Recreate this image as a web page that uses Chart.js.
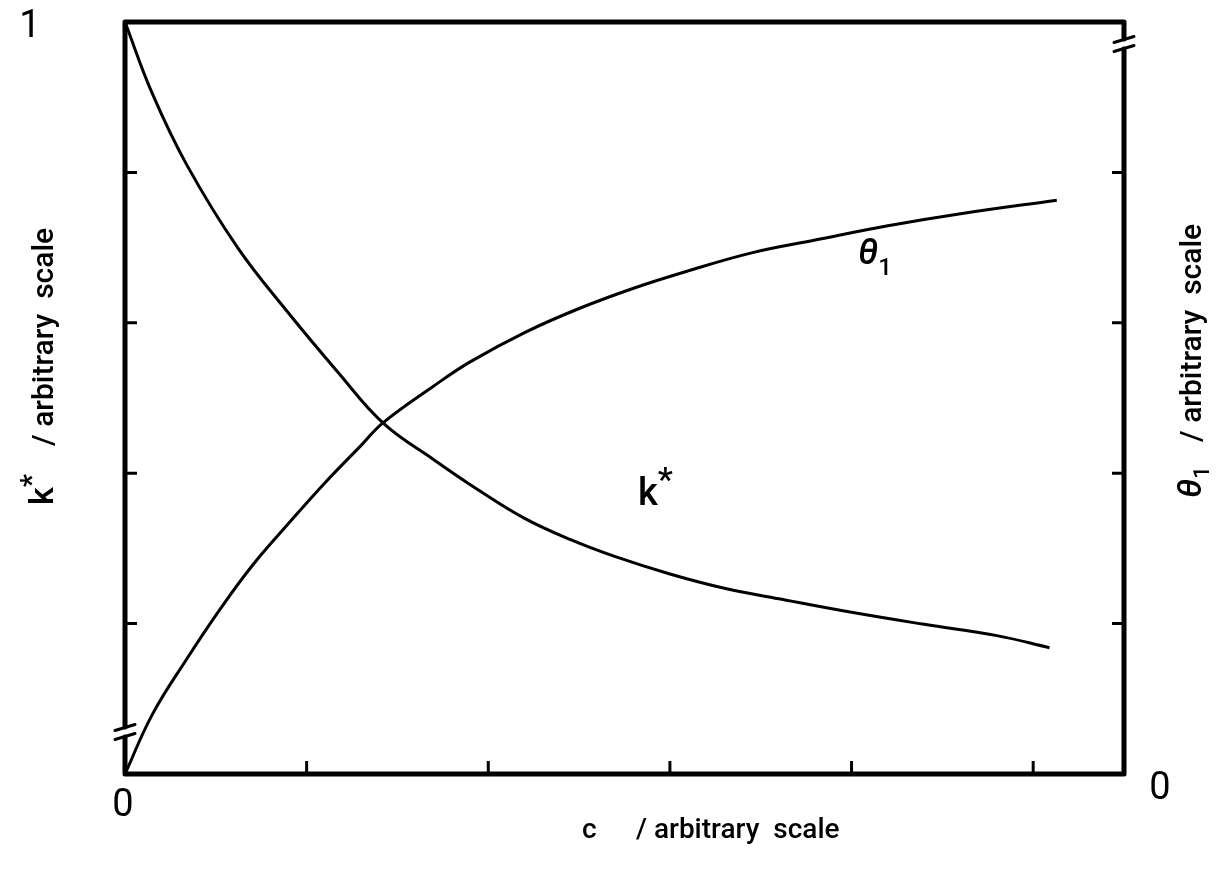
<!DOCTYPE html>
<html>
<head>
<meta charset="utf-8">
<script src="https://cdn.jsdelivr.net/npm/chart.js@4.4.1/dist/chart.umd.min.js"></script>
<style>
    html, body { margin: 0; padding: 0; background: #fff; }
    #wrap { width: 1219px; height: 873px; }
</style>
</head>
<body>
<div id="wrap"><canvas id="chart" width="1219" height="873"></canvas></div>
<script>
// concentration c (arbitrary units) and the two curves read along it
const cK = [0, 0.15, 0.34, 0.62, 0.9, 1.17, 1.42, 1.7, 1.95, 2.2, 2.45, 2.7, 3.0, 3.3, 3.6, 4.0, 4.4, 4.8, 5.09];
const kStar = [1, 0.905, 0.81, 0.70, 0.613, 0.535, 0.467, 0.418, 0.377, 0.340, 0.312, 0.289, 0.266, 0.247, 0.233, 0.215, 0.199, 0.184, 0.168];

const cTheta = [0, 0.15, 0.34, 0.52, 0.7, 0.9, 1.1, 1.3, 1.42, 1.7, 1.9, 2.2, 2.5, 2.8, 3.1, 3.45, 3.8, 4.2, 4.6, 5.13];
const theta1 = [0, 0.079, 0.153, 0.218, 0.277, 0.333, 0.387, 0.437, 0.467, 0.516, 0.548, 0.587, 0.619, 0.646, 0.669, 0.693, 0.71, 0.729, 0.745, 0.763];

const xTicks = [1, 2, 3, 4, 5];
const yTicks = [0.2, 0.4, 0.6, 0.8];

const FONT = 'Roboto, "Liberation Sans", Arial, sans-serif';

function toPoints(xs, ys) {
    return xs.map((x, i) => ({ x: x, y: ys[i] }));
}

// frame, inward ticks and the two axis breaks
const framePlugin = {
    id: 'frame',
    afterDatasetsDraw(chart) {
        const ctx = chart.ctx;
        const a = chart.chartArea;
        const xs = chart.scales.x;
        const yl = chart.scales.y;
        const yr = chart.scales.y1;
        ctx.save();
        ctx.strokeStyle = '#000';
        ctx.lineCap = 'round';
        ctx.lineJoin = 'round';
        ctx.lineWidth = 5;

        const leftBreak = 732;
        const rightBreak = 44;
        ctx.beginPath();
        ctx.moveTo(a.left, leftBreak - 5);
        ctx.lineTo(a.left, a.top);
        ctx.lineTo(a.right, a.top);
        ctx.lineTo(a.right, rightBreak - 5);
        ctx.moveTo(a.right, rightBreak + 5);
        ctx.lineTo(a.right, a.bottom);
        ctx.lineTo(a.left, a.bottom);
        ctx.lineTo(a.left, leftBreak + 5);
        ctx.stroke();

        // break slashes
        ctx.lineWidth = 3;
        [[a.left, leftBreak], [a.right, rightBreak]].forEach(([bx, by]) => {
            [-4.5, 4.5].forEach(off => {
                ctx.beginPath();
                ctx.moveTo(bx - 10, by + off + 3);
                ctx.lineTo(bx + 10, by + off - 3);
                ctx.stroke();
            });
        });

        // ticks pointing into the plot
        ctx.lineWidth = 3;
        ctx.lineCap = 'butt';
        ctx.beginPath();
        xTicks.forEach(v => {
            const px = xs.getPixelForValue(v);
            ctx.moveTo(px, a.bottom);
            ctx.lineTo(px, a.bottom - 13);
        });
        yTicks.forEach(v => {
            const pl = yl.getPixelForValue(v);
            ctx.moveTo(a.left, pl);
            ctx.lineTo(a.left + 12, pl);
            const pr = yr.getPixelForValue(v);
            ctx.moveTo(a.right, pr);
            ctx.lineTo(a.right - 12, pr);
        });
        ctx.stroke();
        ctx.restore();
    }
};

// draws a run of text pieces: [text, size, dy, italic]
function drawRun(ctx, parts, x, y) {
    let cx = x;
    parts.forEach(p => {
        ctx.font = (p[3] ? 'italic ' : '') + '500 ' + p[1] + 'px ' + FONT;
        ctx.fillText(p[0], cx, y + p[2]);
        cx += ctx.measureText(p[0]).width;
    });
}

// axis numbers, titles and curve labels
const labelPlugin = {
    id: 'labels',
    afterDraw(chart) {
        const ctx = chart.ctx;
        ctx.save();
        ctx.fillStyle = '#000';
        ctx.textBaseline = 'alphabetic';

        ctx.font = '38px ' + FONT;
        ctx.textAlign = 'center';
        ctx.fillText('1', 30, 37);
        ctx.fillText('0', 123, 816);
        ctx.fillText('0', 1160, 799);

        ctx.textAlign = 'left';
        ctx.font = '500 28px ' + FONT;
        ctx.fillText('c', 582, 838);
        ctx.fillText('/ arbitrary  scale', 636, 838);

        const title = '500 30px ' + FONT;

        // left title, reads upward
        ctx.save();
        ctx.translate(53, 0);
        ctx.rotate(-Math.PI / 2);
        drawRun(ctx, [['k', 34, 0, false], ['*', 30, -12, false]], -505, 0);
        ctx.font = title;
        ctx.fillText('/ arbitrary  scale', -446, 0);
        ctx.restore();

        // right title
        ctx.save();
        ctx.translate(1201, 0);
        ctx.rotate(-Math.PI / 2);
        drawRun(ctx, [['θ', 34, 0, true], ['1', 22, 8, false]], -498, 0);
        ctx.font = title;
        ctx.fillText('/ arbitrary  scale', -442, 0);
        ctx.restore();

        // curve labels inside the plot
        drawRun(ctx, [['k', 38, 0, false], ['*', 34, -14, false]], 638, 505);
        drawRun(ctx, [['θ', 36, 0, true], ['1', 24, 11, false]], 858, 264);
        ctx.restore();
    }
};

const lineStyle = {
    borderColor: '#000',
    borderWidth: 3,
    pointRadius: 0,
    fill: false,
    tension: 0.4
};

new Chart(document.getElementById('chart'), {
    type: 'line',
    data: {
        datasets: [
            Object.assign({ label: 'k*', data: toPoints(cK, kStar), yAxisID: 'y' }, lineStyle),
            Object.assign({ label: 'θ1', data: toPoints(cTheta, theta1), yAxisID: 'y1' }, lineStyle)
        ]
    },
    options: {
        responsive: false,
        animation: false,
        layout: { padding: { left: 125, top: 22, right: 95, bottom: 99 } },
        plugins: { legend: { display: false }, tooltip: { enabled: false } },
        scales: {
            x: { type: 'linear', min: 0, max: 5.5, display: false },
            y: { min: 0, max: 1, display: false },
            y1: { min: 0, max: 1, display: false, position: 'right' }
        }
    },
    plugins: [framePlugin, labelPlugin]
});
</script>
</body>
</html>
